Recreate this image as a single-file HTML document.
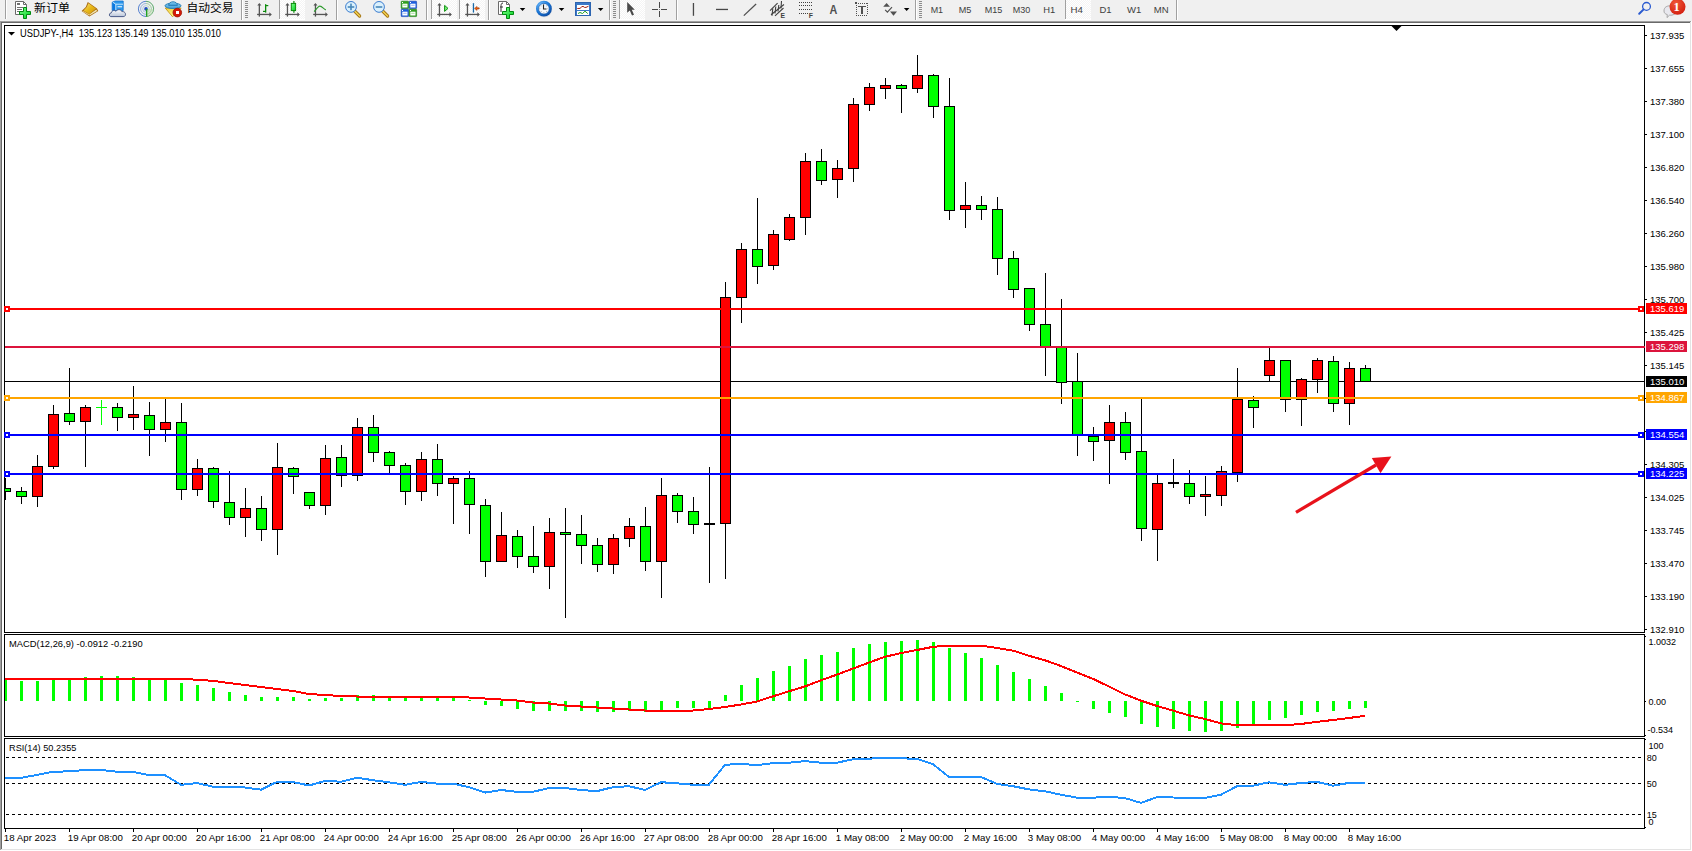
<!DOCTYPE html>
<html><head><meta charset="utf-8"><title>USDJPY-,H4</title>
<style>
html,body{margin:0;padding:0;background:#fff;overflow:hidden;}
#root{position:relative;width:1692px;height:851px;overflow:hidden;}
svg{position:absolute;left:0;top:0;}
text{white-space:pre;}
</style></head><body><div id="root">
<svg width="1692" height="851" viewBox="0 0 1692 851" shape-rendering="crispEdges" font-family="'Liberation Sans', sans-serif">
<rect x="0" y="0" width="1692" height="21" fill="#f0f0f0"/>
<rect x="0" y="21" width="1691" height="1" fill="#a0a0a0"/>
<rect x="0" y="21" width="1" height="829" fill="#a0a0a0"/>
<rect x="1" y="22" width="1689" height="1" fill="#696969"/>
<rect x="1" y="22" width="1" height="827" fill="#696969"/>
<rect x="1690" y="22" width="1" height="828" fill="#e3e3e3"/>
<rect x="1" y="849" width="1690" height="1" fill="#e3e3e3"/>
<rect x="1691" y="21" width="1" height="830" fill="#ffffff"/>
<rect x="0" y="850" width="1692" height="1" fill="#ffffff"/>
<rect x="2" y="23" width="1688" height="826" fill="#ffffff"/>
<rect x="4" y="25" width="1641" height="1" fill="#000"/>
<rect x="4" y="632" width="1641" height="1" fill="#000"/>
<rect x="4" y="25" width="1" height="608" fill="#000"/>
<rect x="1644" y="25" width="1" height="608" fill="#000"/>
<rect x="4" y="634" width="1641" height="1" fill="#000"/>
<rect x="4" y="736" width="1641" height="1" fill="#000"/>
<rect x="4" y="634" width="1" height="103" fill="#000"/>
<rect x="1644" y="634" width="1" height="103" fill="#000"/>
<rect x="4" y="738" width="1641" height="1" fill="#000"/>
<rect x="4" y="828" width="1641" height="1" fill="#000"/>
<rect x="4" y="738" width="1" height="91" fill="#000"/>
<rect x="1644" y="738" width="1" height="91" fill="#000"/>
<g font-family="'Liberation Sans', Arial, sans-serif">
<rect x="1645" y="35" width="2" height="1" fill="#000"/>
<text x="1650" y="39" font-size="9.5" fill="#000">137.935</text>
<rect x="1645" y="68" width="2" height="1" fill="#000"/>
<text x="1650" y="72" font-size="9.5" fill="#000">137.655</text>
<rect x="1645" y="101" width="2" height="1" fill="#000"/>
<text x="1650" y="105" font-size="9.5" fill="#000">137.380</text>
<rect x="1645" y="134" width="2" height="1" fill="#000"/>
<text x="1650" y="138" font-size="9.5" fill="#000">137.100</text>
<rect x="1645" y="167" width="2" height="1" fill="#000"/>
<text x="1650" y="171" font-size="9.5" fill="#000">136.820</text>
<rect x="1645" y="200" width="2" height="1" fill="#000"/>
<text x="1650" y="204" font-size="9.5" fill="#000">136.540</text>
<rect x="1645" y="233" width="2" height="1" fill="#000"/>
<text x="1650" y="237" font-size="9.5" fill="#000">136.260</text>
<rect x="1645" y="266" width="2" height="1" fill="#000"/>
<text x="1650" y="270" font-size="9.5" fill="#000">135.980</text>
<rect x="1645" y="299" width="2" height="1" fill="#000"/>
<text x="1650" y="303" font-size="9.5" fill="#000">135.700</text>
<rect x="1645" y="332" width="2" height="1" fill="#000"/>
<text x="1650" y="336" font-size="9.5" fill="#000">135.425</text>
<rect x="1645" y="365" width="2" height="1" fill="#000"/>
<text x="1650" y="369" font-size="9.5" fill="#000">135.145</text>
<rect x="1645" y="398" width="2" height="1" fill="#000"/>
<text x="1650" y="402" font-size="9.5" fill="#000">134.865</text>
<rect x="1645" y="431" width="2" height="1" fill="#000"/>
<text x="1650" y="435" font-size="9.5" fill="#000">134.585</text>
<rect x="1645" y="464" width="2" height="1" fill="#000"/>
<text x="1650" y="468" font-size="9.5" fill="#000">134.305</text>
<rect x="1645" y="497" width="2" height="1" fill="#000"/>
<text x="1650" y="501" font-size="9.5" fill="#000">134.025</text>
<rect x="1645" y="530" width="2" height="1" fill="#000"/>
<text x="1650" y="534" font-size="9.5" fill="#000">133.745</text>
<rect x="1645" y="563" width="2" height="1" fill="#000"/>
<text x="1650" y="567" font-size="9.5" fill="#000">133.470</text>
<rect x="1645" y="596" width="2" height="1" fill="#000"/>
<text x="1650" y="600" font-size="9.5" fill="#000">133.190</text>
<rect x="1645" y="629" width="2" height="1" fill="#000"/>
<text x="1650" y="633" font-size="9.5" fill="#000">132.910</text>
</g>
<defs><clipPath id="cm"><rect x="5" y="26" width="1639" height="606"/></clipPath><clipPath id="cmacd"><rect x="5" y="635" width="1639" height="101"/></clipPath><clipPath id="crsi"><rect x="5" y="739" width="1639" height="89"/></clipPath></defs>
<g clip-path="url(#cm)">
<rect x="5" y="381" width="1639" height="1" fill="#000000"/>
<rect x="5" y="478" width="1" height="22" fill="#000"/>
<rect x="0" y="488" width="11" height="4" fill="#000"/>
<rect x="1" y="489" width="9" height="2" fill="#00ff00"/>
<rect x="21" y="487" width="1" height="17" fill="#000"/>
<rect x="16" y="491" width="11" height="6" fill="#000"/>
<rect x="17" y="492" width="9" height="4" fill="#00ff00"/>
<rect x="37" y="455" width="1" height="52" fill="#000"/>
<rect x="32" y="466" width="11" height="31" fill="#000"/>
<rect x="33" y="467" width="9" height="29" fill="#ff0000"/>
<rect x="53" y="405" width="1" height="64" fill="#000"/>
<rect x="48" y="414" width="11" height="53" fill="#000"/>
<rect x="49" y="415" width="9" height="51" fill="#ff0000"/>
<rect x="69" y="368" width="1" height="57" fill="#000"/>
<rect x="64" y="413" width="11" height="9" fill="#000"/>
<rect x="65" y="414" width="9" height="7" fill="#00ff00"/>
<rect x="85" y="405" width="1" height="62" fill="#000"/>
<rect x="80" y="407" width="11" height="15" fill="#000"/>
<rect x="81" y="408" width="9" height="13" fill="#ff0000"/>
<rect x="101" y="400" width="1" height="25" fill="#00ff00"/>
<rect x="96" y="407" width="11" height="1" fill="#00ff00"/>
<rect x="117" y="403" width="1" height="28" fill="#000"/>
<rect x="112" y="407" width="11" height="11" fill="#000"/>
<rect x="113" y="408" width="9" height="9" fill="#00ff00"/>
<rect x="133" y="386" width="1" height="44" fill="#000"/>
<rect x="128" y="414" width="11" height="4" fill="#000"/>
<rect x="129" y="415" width="9" height="2" fill="#ff0000"/>
<rect x="149" y="402" width="1" height="54" fill="#000"/>
<rect x="144" y="415" width="11" height="15" fill="#000"/>
<rect x="145" y="416" width="9" height="13" fill="#00ff00"/>
<rect x="165" y="399" width="1" height="43" fill="#000"/>
<rect x="160" y="422" width="11" height="8" fill="#000"/>
<rect x="161" y="423" width="9" height="6" fill="#ff0000"/>
<rect x="181" y="403" width="1" height="97" fill="#000"/>
<rect x="176" y="422" width="11" height="68" fill="#000"/>
<rect x="177" y="423" width="9" height="66" fill="#00ff00"/>
<rect x="197" y="459" width="1" height="37" fill="#000"/>
<rect x="192" y="468" width="11" height="22" fill="#000"/>
<rect x="193" y="469" width="9" height="20" fill="#ff0000"/>
<rect x="213" y="467" width="1" height="41" fill="#000"/>
<rect x="208" y="468" width="11" height="34" fill="#000"/>
<rect x="209" y="469" width="9" height="32" fill="#00ff00"/>
<rect x="229" y="471" width="1" height="54" fill="#000"/>
<rect x="224" y="502" width="11" height="16" fill="#000"/>
<rect x="225" y="503" width="9" height="14" fill="#00ff00"/>
<rect x="245" y="488" width="1" height="49" fill="#000"/>
<rect x="240" y="508" width="11" height="10" fill="#000"/>
<rect x="241" y="509" width="9" height="8" fill="#ff0000"/>
<rect x="261" y="496" width="1" height="45" fill="#000"/>
<rect x="256" y="508" width="11" height="22" fill="#000"/>
<rect x="257" y="509" width="9" height="20" fill="#00ff00"/>
<rect x="277" y="443" width="1" height="112" fill="#000"/>
<rect x="272" y="467" width="11" height="63" fill="#000"/>
<rect x="273" y="468" width="9" height="61" fill="#ff0000"/>
<rect x="293" y="467" width="1" height="27" fill="#000"/>
<rect x="288" y="468" width="11" height="9" fill="#000"/>
<rect x="289" y="469" width="9" height="7" fill="#00ff00"/>
<rect x="309" y="492" width="1" height="17" fill="#000"/>
<rect x="304" y="492" width="11" height="14" fill="#000"/>
<rect x="305" y="493" width="9" height="12" fill="#00ff00"/>
<rect x="325" y="445" width="1" height="70" fill="#000"/>
<rect x="320" y="458" width="11" height="48" fill="#000"/>
<rect x="321" y="459" width="9" height="46" fill="#ff0000"/>
<rect x="341" y="445" width="1" height="42" fill="#000"/>
<rect x="336" y="457" width="11" height="19" fill="#000"/>
<rect x="337" y="458" width="9" height="17" fill="#00ff00"/>
<rect x="357" y="418" width="1" height="63" fill="#000"/>
<rect x="352" y="427" width="11" height="49" fill="#000"/>
<rect x="353" y="428" width="9" height="47" fill="#ff0000"/>
<rect x="373" y="415" width="1" height="47" fill="#000"/>
<rect x="368" y="427" width="11" height="26" fill="#000"/>
<rect x="369" y="428" width="9" height="24" fill="#00ff00"/>
<rect x="389" y="451" width="1" height="22" fill="#000"/>
<rect x="384" y="452" width="11" height="14" fill="#000"/>
<rect x="385" y="453" width="9" height="12" fill="#00ff00"/>
<rect x="405" y="463" width="1" height="42" fill="#000"/>
<rect x="400" y="465" width="11" height="27" fill="#000"/>
<rect x="401" y="466" width="9" height="25" fill="#00ff00"/>
<rect x="421" y="452" width="1" height="49" fill="#000"/>
<rect x="416" y="459" width="11" height="33" fill="#000"/>
<rect x="417" y="460" width="9" height="31" fill="#ff0000"/>
<rect x="437" y="444" width="1" height="52" fill="#000"/>
<rect x="432" y="459" width="11" height="25" fill="#000"/>
<rect x="433" y="460" width="9" height="23" fill="#00ff00"/>
<rect x="453" y="476" width="1" height="48" fill="#000"/>
<rect x="448" y="478" width="11" height="6" fill="#000"/>
<rect x="449" y="479" width="9" height="4" fill="#ff0000"/>
<rect x="469" y="471" width="1" height="63" fill="#000"/>
<rect x="464" y="478" width="11" height="27" fill="#000"/>
<rect x="465" y="479" width="9" height="25" fill="#00ff00"/>
<rect x="485" y="499" width="1" height="78" fill="#000"/>
<rect x="480" y="505" width="11" height="57" fill="#000"/>
<rect x="481" y="506" width="9" height="55" fill="#00ff00"/>
<rect x="501" y="512" width="1" height="49" fill="#000"/>
<rect x="496" y="535" width="11" height="27" fill="#000"/>
<rect x="497" y="536" width="9" height="25" fill="#ff0000"/>
<rect x="517" y="530" width="1" height="38" fill="#000"/>
<rect x="512" y="536" width="11" height="21" fill="#000"/>
<rect x="513" y="537" width="9" height="19" fill="#00ff00"/>
<rect x="533" y="526" width="1" height="47" fill="#000"/>
<rect x="528" y="556" width="11" height="11" fill="#000"/>
<rect x="529" y="557" width="9" height="9" fill="#00ff00"/>
<rect x="549" y="518" width="1" height="71" fill="#000"/>
<rect x="544" y="532" width="11" height="35" fill="#000"/>
<rect x="545" y="533" width="9" height="33" fill="#ff0000"/>
<rect x="565" y="508" width="1" height="110" fill="#000"/>
<rect x="560" y="532" width="11" height="3" fill="#000"/>
<rect x="561" y="533" width="9" height="1" fill="#00ff00"/>
<rect x="581" y="515" width="1" height="49" fill="#000"/>
<rect x="576" y="534" width="11" height="12" fill="#000"/>
<rect x="577" y="535" width="9" height="10" fill="#00ff00"/>
<rect x="597" y="538" width="1" height="34" fill="#000"/>
<rect x="592" y="545" width="11" height="20" fill="#000"/>
<rect x="593" y="546" width="9" height="18" fill="#00ff00"/>
<rect x="613" y="534" width="1" height="40" fill="#000"/>
<rect x="608" y="538" width="11" height="27" fill="#000"/>
<rect x="609" y="539" width="9" height="25" fill="#ff0000"/>
<rect x="629" y="518" width="1" height="29" fill="#000"/>
<rect x="624" y="526" width="11" height="13" fill="#000"/>
<rect x="625" y="527" width="9" height="11" fill="#ff0000"/>
<rect x="645" y="507" width="1" height="64" fill="#000"/>
<rect x="640" y="526" width="11" height="36" fill="#000"/>
<rect x="641" y="527" width="9" height="34" fill="#00ff00"/>
<rect x="661" y="478" width="1" height="120" fill="#000"/>
<rect x="656" y="495" width="11" height="67" fill="#000"/>
<rect x="657" y="496" width="9" height="65" fill="#ff0000"/>
<rect x="677" y="493" width="1" height="30" fill="#000"/>
<rect x="672" y="495" width="11" height="17" fill="#000"/>
<rect x="673" y="496" width="9" height="15" fill="#00ff00"/>
<rect x="693" y="497" width="1" height="37" fill="#000"/>
<rect x="688" y="511" width="11" height="14" fill="#000"/>
<rect x="689" y="512" width="9" height="12" fill="#00ff00"/>
<rect x="709" y="467" width="1" height="116" fill="#000"/>
<rect x="704" y="523" width="11" height="2" fill="#000"/>
<rect x="725" y="282" width="1" height="297" fill="#000"/>
<rect x="720" y="297" width="11" height="227" fill="#000"/>
<rect x="721" y="298" width="9" height="225" fill="#ff0000"/>
<rect x="741" y="243" width="1" height="80" fill="#000"/>
<rect x="736" y="249" width="11" height="49" fill="#000"/>
<rect x="737" y="250" width="9" height="47" fill="#ff0000"/>
<rect x="757" y="198" width="1" height="86" fill="#000"/>
<rect x="752" y="249" width="11" height="18" fill="#000"/>
<rect x="753" y="250" width="9" height="16" fill="#00ff00"/>
<rect x="773" y="230" width="1" height="40" fill="#000"/>
<rect x="768" y="234" width="11" height="32" fill="#000"/>
<rect x="769" y="235" width="9" height="30" fill="#ff0000"/>
<rect x="789" y="214" width="1" height="27" fill="#000"/>
<rect x="784" y="217" width="11" height="23" fill="#000"/>
<rect x="785" y="218" width="9" height="21" fill="#ff0000"/>
<rect x="805" y="153" width="1" height="82" fill="#000"/>
<rect x="800" y="161" width="11" height="57" fill="#000"/>
<rect x="801" y="162" width="9" height="55" fill="#ff0000"/>
<rect x="821" y="149" width="1" height="36" fill="#000"/>
<rect x="816" y="161" width="11" height="20" fill="#000"/>
<rect x="817" y="162" width="9" height="18" fill="#00ff00"/>
<rect x="837" y="160" width="1" height="38" fill="#000"/>
<rect x="832" y="168" width="11" height="12" fill="#000"/>
<rect x="833" y="169" width="9" height="10" fill="#ff0000"/>
<rect x="853" y="98" width="1" height="84" fill="#000"/>
<rect x="848" y="104" width="11" height="65" fill="#000"/>
<rect x="849" y="105" width="9" height="63" fill="#ff0000"/>
<rect x="869" y="83" width="1" height="28" fill="#000"/>
<rect x="864" y="87" width="11" height="18" fill="#000"/>
<rect x="865" y="88" width="9" height="16" fill="#ff0000"/>
<rect x="885" y="78" width="1" height="21" fill="#000"/>
<rect x="880" y="85" width="11" height="4" fill="#000"/>
<rect x="881" y="86" width="9" height="2" fill="#ff0000"/>
<rect x="901" y="84" width="1" height="29" fill="#000"/>
<rect x="896" y="85" width="11" height="4" fill="#000"/>
<rect x="897" y="86" width="9" height="2" fill="#00ff00"/>
<rect x="917" y="55" width="1" height="38" fill="#000"/>
<rect x="912" y="75" width="11" height="14" fill="#000"/>
<rect x="913" y="76" width="9" height="12" fill="#ff0000"/>
<rect x="933" y="74" width="1" height="44" fill="#000"/>
<rect x="928" y="75" width="11" height="32" fill="#000"/>
<rect x="929" y="76" width="9" height="30" fill="#00ff00"/>
<rect x="949" y="78" width="1" height="142" fill="#000"/>
<rect x="944" y="106" width="11" height="105" fill="#000"/>
<rect x="945" y="107" width="9" height="103" fill="#00ff00"/>
<rect x="965" y="182" width="1" height="46" fill="#000"/>
<rect x="960" y="205" width="11" height="5" fill="#000"/>
<rect x="961" y="206" width="9" height="3" fill="#ff0000"/>
<rect x="981" y="196" width="1" height="24" fill="#000"/>
<rect x="976" y="205" width="11" height="5" fill="#000"/>
<rect x="977" y="206" width="9" height="3" fill="#00ff00"/>
<rect x="997" y="197" width="1" height="78" fill="#000"/>
<rect x="992" y="209" width="11" height="50" fill="#000"/>
<rect x="993" y="210" width="9" height="48" fill="#00ff00"/>
<rect x="1013" y="251" width="1" height="47" fill="#000"/>
<rect x="1008" y="258" width="11" height="32" fill="#000"/>
<rect x="1009" y="259" width="9" height="30" fill="#00ff00"/>
<rect x="1029" y="288" width="1" height="43" fill="#000"/>
<rect x="1024" y="288" width="11" height="37" fill="#000"/>
<rect x="1025" y="289" width="9" height="35" fill="#00ff00"/>
<rect x="1045" y="273" width="1" height="103" fill="#000"/>
<rect x="1040" y="324" width="11" height="23" fill="#000"/>
<rect x="1041" y="325" width="9" height="21" fill="#00ff00"/>
<rect x="1061" y="299" width="1" height="105" fill="#000"/>
<rect x="1056" y="347" width="11" height="36" fill="#000"/>
<rect x="1057" y="348" width="9" height="34" fill="#00ff00"/>
<rect x="1077" y="353" width="1" height="103" fill="#000"/>
<rect x="1072" y="381" width="11" height="54" fill="#000"/>
<rect x="1073" y="382" width="9" height="52" fill="#00ff00"/>
<rect x="1093" y="427" width="1" height="34" fill="#000"/>
<rect x="1088" y="436" width="11" height="6" fill="#000"/>
<rect x="1089" y="437" width="9" height="4" fill="#00ff00"/>
<rect x="1109" y="405" width="1" height="79" fill="#000"/>
<rect x="1104" y="422" width="11" height="19" fill="#000"/>
<rect x="1105" y="423" width="9" height="17" fill="#ff0000"/>
<rect x="1125" y="412" width="1" height="48" fill="#000"/>
<rect x="1120" y="422" width="11" height="31" fill="#000"/>
<rect x="1121" y="423" width="9" height="29" fill="#00ff00"/>
<rect x="1141" y="399" width="1" height="142" fill="#000"/>
<rect x="1136" y="451" width="11" height="78" fill="#000"/>
<rect x="1137" y="452" width="9" height="76" fill="#00ff00"/>
<rect x="1157" y="475" width="1" height="86" fill="#000"/>
<rect x="1152" y="483" width="11" height="47" fill="#000"/>
<rect x="1153" y="484" width="9" height="45" fill="#ff0000"/>
<rect x="1173" y="459" width="1" height="29" fill="#000"/>
<rect x="1168" y="482" width="11" height="2" fill="#000"/>
<rect x="1189" y="470" width="1" height="34" fill="#000"/>
<rect x="1184" y="483" width="11" height="14" fill="#000"/>
<rect x="1185" y="484" width="9" height="12" fill="#00ff00"/>
<rect x="1205" y="476" width="1" height="40" fill="#000"/>
<rect x="1200" y="494" width="11" height="3" fill="#000"/>
<rect x="1201" y="495" width="9" height="1" fill="#ff0000"/>
<rect x="1221" y="466" width="1" height="40" fill="#000"/>
<rect x="1216" y="471" width="11" height="25" fill="#000"/>
<rect x="1217" y="472" width="9" height="23" fill="#ff0000"/>
<rect x="1237" y="368" width="1" height="114" fill="#000"/>
<rect x="1232" y="399" width="11" height="74" fill="#000"/>
<rect x="1233" y="400" width="9" height="72" fill="#ff0000"/>
<rect x="1253" y="396" width="1" height="32" fill="#000"/>
<rect x="1248" y="400" width="11" height="8" fill="#000"/>
<rect x="1249" y="401" width="9" height="6" fill="#00ff00"/>
<rect x="1269" y="348" width="1" height="34" fill="#000"/>
<rect x="1264" y="360" width="11" height="16" fill="#000"/>
<rect x="1265" y="361" width="9" height="14" fill="#ff0000"/>
<rect x="1285" y="360" width="1" height="52" fill="#000"/>
<rect x="1280" y="360" width="11" height="40" fill="#000"/>
<rect x="1281" y="361" width="9" height="38" fill="#00ff00"/>
<rect x="1301" y="378" width="1" height="48" fill="#000"/>
<rect x="1296" y="379" width="11" height="21" fill="#000"/>
<rect x="1297" y="380" width="9" height="19" fill="#ff0000"/>
<rect x="1317" y="358" width="1" height="35" fill="#000"/>
<rect x="1312" y="360" width="11" height="20" fill="#000"/>
<rect x="1313" y="361" width="9" height="18" fill="#ff0000"/>
<rect x="1333" y="356" width="1" height="56" fill="#000"/>
<rect x="1328" y="361" width="11" height="43" fill="#000"/>
<rect x="1329" y="362" width="9" height="41" fill="#00ff00"/>
<rect x="1349" y="362" width="1" height="63" fill="#000"/>
<rect x="1344" y="368" width="11" height="36" fill="#000"/>
<rect x="1345" y="369" width="9" height="34" fill="#ff0000"/>
<rect x="1365" y="365" width="1" height="16" fill="#000"/>
<rect x="1360" y="368" width="11" height="14" fill="#000"/>
<rect x="1361" y="369" width="9" height="12" fill="#00ff00"/>
<rect x="5" y="308" width="1639" height="2" fill="#ff0000"/>
<rect x="5" y="346" width="1639" height="2" fill="#dc143c"/>
<rect x="5" y="397" width="1639" height="2" fill="#ffa500"/>
<rect x="5" y="434" width="1639" height="2" fill="#0000ff"/>
<rect x="5" y="473" width="1639" height="2" fill="#0000ff"/>
<g shape-rendering="geometricPrecision"><line x1="1296" y1="512.3" x2="1376" y2="465" stroke="#e8121b" stroke-width="3.2"/><polygon points="1371.8,458 1391.4,456.6 1380.5,473.3" fill="#e8121b"/></g>
<polygon points="1391.5,26 1401.5,26 1396.5,31" fill="#000" shape-rendering="geometricPrecision"/>
</g>
<rect x="1644" y="346" width="1" height="2" fill="#dc143c"/>
<rect x="4" y="306" width="6" height="6" fill="#ff0000"/>
<rect x="6" y="308" width="2" height="2" fill="#fff"/>
<rect x="1638" y="306" width="6" height="6" fill="#ff0000"/>
<rect x="1640" y="308" width="2" height="2" fill="#fff"/>
<rect x="4" y="395" width="6" height="6" fill="#ffa500"/>
<rect x="6" y="397" width="2" height="2" fill="#fff"/>
<rect x="1638" y="395" width="6" height="6" fill="#ffa500"/>
<rect x="1640" y="397" width="2" height="2" fill="#fff"/>
<rect x="4" y="432" width="6" height="6" fill="#0000ff"/>
<rect x="6" y="434" width="2" height="2" fill="#fff"/>
<rect x="1638" y="432" width="6" height="6" fill="#0000ff"/>
<rect x="1640" y="434" width="2" height="2" fill="#fff"/>
<rect x="4" y="471" width="6" height="6" fill="#0000ff"/>
<rect x="6" y="473" width="2" height="2" fill="#fff"/>
<rect x="1638" y="471" width="6" height="6" fill="#0000ff"/>
<rect x="1640" y="473" width="2" height="2" fill="#fff"/>
<g font-family="'Liberation Sans', Arial, sans-serif">
<rect x="1646" y="303" width="41" height="11" fill="#ff0000"/>
<text x="1650" y="312" font-size="9.5" fill="#fff">135.619</text>
<rect x="1646" y="341" width="41" height="11" fill="#dc143c"/>
<text x="1650" y="350" font-size="9.5" fill="#fff">135.298</text>
<rect x="1646" y="376" width="41" height="11" fill="#000000"/>
<text x="1650" y="385" font-size="9.5" fill="#fff">135.010</text>
<rect x="1646" y="392" width="41" height="11" fill="#ffa500"/>
<text x="1650" y="401" font-size="9.5" fill="#fff">134.867</text>
<rect x="1646" y="429" width="41" height="11" fill="#0000ff"/>
<text x="1650" y="438" font-size="9.5" fill="#fff">134.554</text>
<rect x="1646" y="468" width="41" height="11" fill="#0000ff"/>
<text x="1650" y="477" font-size="9.5" fill="#fff">134.225</text>
</g>
<polygon points="8,32 15,32 11.5,35.5" fill="#000" shape-rendering="geometricPrecision"/>
<g font-family="'Liberation Sans', Arial, sans-serif">
<text x="20" y="36.6" font-size="10" fill="#000" textLength="201" lengthAdjust="spacingAndGlyphs">USDJPY-,H4 &#160;135.123 135.149 135.010 135.010</text>
</g>
<g clip-path="url(#cmacd)">
<rect x="4" y="680" width="3" height="21" fill="#00ff00"/>
<rect x="20" y="681" width="3" height="20" fill="#00ff00"/>
<rect x="36" y="681" width="3" height="20" fill="#00ff00"/>
<rect x="52" y="679" width="3" height="22" fill="#00ff00"/>
<rect x="68" y="679" width="3" height="22" fill="#00ff00"/>
<rect x="84" y="677" width="3" height="24" fill="#00ff00"/>
<rect x="100" y="676" width="3" height="25" fill="#00ff00"/>
<rect x="116" y="676" width="3" height="25" fill="#00ff00"/>
<rect x="132" y="677" width="3" height="24" fill="#00ff00"/>
<rect x="148" y="679" width="3" height="22" fill="#00ff00"/>
<rect x="164" y="679" width="3" height="22" fill="#00ff00"/>
<rect x="180" y="683" width="3" height="18" fill="#00ff00"/>
<rect x="196" y="685" width="3" height="16" fill="#00ff00"/>
<rect x="212" y="688" width="3" height="13" fill="#00ff00"/>
<rect x="228" y="692" width="3" height="9" fill="#00ff00"/>
<rect x="244" y="695" width="3" height="6" fill="#00ff00"/>
<rect x="260" y="697" width="3" height="4" fill="#00ff00"/>
<rect x="276" y="697" width="3" height="4" fill="#00ff00"/>
<rect x="292" y="697" width="3" height="4" fill="#00ff00"/>
<rect x="308" y="699" width="3" height="2" fill="#00ff00"/>
<rect x="324" y="698" width="3" height="3" fill="#00ff00"/>
<rect x="340" y="698" width="3" height="3" fill="#00ff00"/>
<rect x="356" y="695" width="3" height="6" fill="#00ff00"/>
<rect x="372" y="695" width="3" height="6" fill="#00ff00"/>
<rect x="388" y="698" width="3" height="3" fill="#00ff00"/>
<rect x="404" y="698" width="3" height="3" fill="#00ff00"/>
<rect x="420" y="698" width="3" height="3" fill="#00ff00"/>
<rect x="436" y="698" width="3" height="3" fill="#00ff00"/>
<rect x="452" y="698" width="3" height="3" fill="#00ff00"/>
<rect x="468" y="700" width="3" height="1" fill="#00ff00"/>
<rect x="484" y="701" width="3" height="4" fill="#00ff00"/>
<rect x="500" y="701" width="3" height="5" fill="#00ff00"/>
<rect x="516" y="701" width="3" height="8" fill="#00ff00"/>
<rect x="532" y="701" width="3" height="10" fill="#00ff00"/>
<rect x="548" y="701" width="3" height="10" fill="#00ff00"/>
<rect x="564" y="701" width="3" height="10" fill="#00ff00"/>
<rect x="580" y="701" width="3" height="10" fill="#00ff00"/>
<rect x="596" y="701" width="3" height="11" fill="#00ff00"/>
<rect x="612" y="701" width="3" height="11" fill="#00ff00"/>
<rect x="628" y="701" width="3" height="10" fill="#00ff00"/>
<rect x="644" y="701" width="3" height="11" fill="#00ff00"/>
<rect x="660" y="701" width="3" height="9" fill="#00ff00"/>
<rect x="676" y="701" width="3" height="7" fill="#00ff00"/>
<rect x="692" y="701" width="3" height="7" fill="#00ff00"/>
<rect x="708" y="701" width="3" height="7" fill="#00ff00"/>
<rect x="724" y="695" width="3" height="6" fill="#00ff00"/>
<rect x="740" y="685" width="3" height="16" fill="#00ff00"/>
<rect x="756" y="678" width="3" height="23" fill="#00ff00"/>
<rect x="772" y="671" width="3" height="30" fill="#00ff00"/>
<rect x="788" y="666" width="3" height="35" fill="#00ff00"/>
<rect x="804" y="659" width="3" height="42" fill="#00ff00"/>
<rect x="820" y="655" width="3" height="46" fill="#00ff00"/>
<rect x="836" y="652" width="3" height="49" fill="#00ff00"/>
<rect x="852" y="648" width="3" height="53" fill="#00ff00"/>
<rect x="868" y="644" width="3" height="57" fill="#00ff00"/>
<rect x="884" y="642" width="3" height="59" fill="#00ff00"/>
<rect x="900" y="641" width="3" height="60" fill="#00ff00"/>
<rect x="916" y="640" width="3" height="61" fill="#00ff00"/>
<rect x="932" y="642" width="3" height="59" fill="#00ff00"/>
<rect x="948" y="648" width="3" height="53" fill="#00ff00"/>
<rect x="964" y="653" width="3" height="48" fill="#00ff00"/>
<rect x="980" y="658" width="3" height="43" fill="#00ff00"/>
<rect x="996" y="665" width="3" height="36" fill="#00ff00"/>
<rect x="1012" y="672" width="3" height="29" fill="#00ff00"/>
<rect x="1028" y="679" width="3" height="22" fill="#00ff00"/>
<rect x="1044" y="686" width="3" height="15" fill="#00ff00"/>
<rect x="1060" y="693" width="3" height="8" fill="#00ff00"/>
<rect x="1076" y="701" width="3" height="1" fill="#00ff00"/>
<rect x="1092" y="701" width="3" height="8" fill="#00ff00"/>
<rect x="1108" y="701" width="3" height="12" fill="#00ff00"/>
<rect x="1124" y="701" width="3" height="16" fill="#00ff00"/>
<rect x="1140" y="701" width="3" height="23" fill="#00ff00"/>
<rect x="1156" y="701" width="3" height="26" fill="#00ff00"/>
<rect x="1172" y="701" width="3" height="28" fill="#00ff00"/>
<rect x="1188" y="701" width="3" height="30" fill="#00ff00"/>
<rect x="1204" y="701" width="3" height="31" fill="#00ff00"/>
<rect x="1220" y="701" width="3" height="30" fill="#00ff00"/>
<rect x="1236" y="701" width="3" height="27" fill="#00ff00"/>
<rect x="1252" y="701" width="3" height="24" fill="#00ff00"/>
<rect x="1268" y="701" width="3" height="19" fill="#00ff00"/>
<rect x="1284" y="701" width="3" height="17" fill="#00ff00"/>
<rect x="1300" y="701" width="3" height="14" fill="#00ff00"/>
<rect x="1316" y="701" width="3" height="11" fill="#00ff00"/>
<rect x="1332" y="701" width="3" height="10" fill="#00ff00"/>
<rect x="1348" y="701" width="3" height="8" fill="#00ff00"/>
<rect x="1364" y="701" width="3" height="7" fill="#00ff00"/>
<polyline points="5,678.5 21,678.5 37,678.5 53,678.5 69,679 85,679.2 101,679.2 117,679.2 133,678.5 149,678.5 165,678.5 181,678.7 197,679.8 213,680.8 229,683 245,685 261,687 277,689 293,691 309,694 325,695 341,696 357,696.5 373,697 389,697 405,697 421,697 437,697 453,697 469,697.5 485,698.5 501,699.5 517,700.5 533,702.5 549,703.5 565,705.5 581,706.5 597,707.5 613,708.5 629,709.5 645,710.5 661,710.5 677,710.5 693,710.5 709,709 725,707 741,704.5 757,701.5 773,696.3 789,691.3 805,686.4 821,680.3 837,674.6 853,668.6 869,662.5 885,656.8 901,653 917,650 933,646.8 949,645.6 965,645.6 981,645.6 997,648 1013,650.6 1029,655.8 1045,660.3 1061,666 1077,672.5 1093,678.9 1109,686.5 1125,694.4 1141,700.7 1157,706 1173,710.6 1189,715.4 1205,719 1221,723.4 1237,725.2 1253,725.2 1269,725.2 1285,725.2 1301,724 1317,721.8 1333,720 1349,718 1365,715.8" fill="none" stroke="#ff0000" stroke-width="2" stroke-linejoin="round" shape-rendering="crispEdges"/>
</g>
<g font-family="'Liberation Sans', Arial, sans-serif">
<rect x="1645" y="636" width="1" height="1" fill="#000"/>
<rect x="1645" y="701" width="1" height="1" fill="#000"/>
<rect x="1645" y="735" width="1" height="1" fill="#000"/>
<text x="1648.5" y="645" font-size="9" fill="#000">1.0032</text>
<text x="1648.5" y="705" font-size="9" fill="#000">0.00</text>
<text x="1647.5" y="733" font-size="9" fill="#000">-0.534</text>
<text x="9" y="647.4" font-size="9.8" fill="#000" textLength="133.6" lengthAdjust="spacingAndGlyphs">MACD(12,26,9) -0.0912 -0.2190</text>
</g>
<g clip-path="url(#crsi)">
<line x1="6" y1="757.5" x2="1642" y2="757.5" stroke="#000" stroke-width="1" stroke-dasharray="3 3" shape-rendering="crispEdges"/>
<line x1="6" y1="783.5" x2="1642" y2="783.5" stroke="#000" stroke-width="1" stroke-dasharray="3 3" shape-rendering="crispEdges"/>
<line x1="6" y1="814.5" x2="1642" y2="814.5" stroke="#000" stroke-width="1" stroke-dasharray="3 3" shape-rendering="crispEdges"/>
<polyline points="5,778 21,777.8 37,775 53,771.7 69,771.4 85,770 101,770 117,771.7 133,772 149,775 165,775.2 181,784.8 197,783.1 213,786.7 229,787.3 245,787.5 261,789.7 277,781.9 293,782 309,785.5 325,780.9 341,781.7 357,777.7 373,780.2 389,782.3 405,784.8 421,781.9 437,783.6 453,783.6 469,787.2 485,792.6 501,790 517,791.8 533,791.8 549,788 565,788 581,790 597,791.1 613,787.2 629,786.2 645,790 661,782.2 677,783.3 693,784.8 709,784.7 725,764.8 741,763.9 757,765.1 773,763.1 789,762.7 805,761.1 821,762.7 837,762.7 853,759.3 869,758.7 885,757.7 901,758.4 917,758.7 933,764.2 949,777 965,777 981,777 997,783.9 1013,786.2 1029,789.4 1045,791.3 1061,794.7 1077,797.7 1093,797.7 1109,796.7 1125,798.1 1141,802.9 1157,797.1 1173,797.5 1189,797.9 1205,797.9 1221,794.7 1237,786.2 1253,785.7 1269,782.3 1285,784.8 1301,783 1317,781.9 1333,785.7 1349,782.9 1365,782.9" fill="none" stroke="#1e90ff" stroke-width="2" stroke-linejoin="round" shape-rendering="crispEdges"/>
</g>
<g font-family="'Liberation Sans', Arial, sans-serif">
<rect x="1645" y="739" width="1" height="1" fill="#000"/>
<rect x="1645" y="827" width="1" height="1" fill="#000"/>
<text x="1648.5" y="749" font-size="9" fill="#000">100</text>
<text x="1646.8" y="761" font-size="9" fill="#000">80</text>
<text x="1646.8" y="787" font-size="9" fill="#000">50</text>
<text x="1646.8" y="817.5" font-size="9" fill="#000">15</text>
<text x="1648.5" y="825" font-size="9" fill="#000">0</text>
<text x="9" y="751" font-size="9.8" fill="#000" textLength="67.4" lengthAdjust="spacingAndGlyphs">RSI(14) 50.2355</text>
</g>
<g font-family="'Liberation Sans', Arial, sans-serif">
<rect x="5" y="829" width="1" height="3" fill="#000"/>
<text transform="translate(3.8,841) scale(1.08,1)" font-size="9" fill="#000">18 Apr 2023</text>
<rect x="69" y="829" width="1" height="3" fill="#000"/>
<text transform="translate(67.8,841) scale(1.08,1)" font-size="9" fill="#000">19 Apr 08:00</text>
<rect x="133" y="829" width="1" height="3" fill="#000"/>
<text transform="translate(131.8,841) scale(1.08,1)" font-size="9" fill="#000">20 Apr 00:00</text>
<rect x="197" y="829" width="1" height="3" fill="#000"/>
<text transform="translate(195.8,841) scale(1.08,1)" font-size="9" fill="#000">20 Apr 16:00</text>
<rect x="261" y="829" width="1" height="3" fill="#000"/>
<text transform="translate(259.8,841) scale(1.08,1)" font-size="9" fill="#000">21 Apr 08:00</text>
<rect x="325" y="829" width="1" height="3" fill="#000"/>
<text transform="translate(323.8,841) scale(1.08,1)" font-size="9" fill="#000">24 Apr 00:00</text>
<rect x="389" y="829" width="1" height="3" fill="#000"/>
<text transform="translate(387.8,841) scale(1.08,1)" font-size="9" fill="#000">24 Apr 16:00</text>
<rect x="453" y="829" width="1" height="3" fill="#000"/>
<text transform="translate(451.8,841) scale(1.08,1)" font-size="9" fill="#000">25 Apr 08:00</text>
<rect x="517" y="829" width="1" height="3" fill="#000"/>
<text transform="translate(515.8,841) scale(1.08,1)" font-size="9" fill="#000">26 Apr 00:00</text>
<rect x="581" y="829" width="1" height="3" fill="#000"/>
<text transform="translate(579.8,841) scale(1.08,1)" font-size="9" fill="#000">26 Apr 16:00</text>
<rect x="645" y="829" width="1" height="3" fill="#000"/>
<text transform="translate(643.8,841) scale(1.08,1)" font-size="9" fill="#000">27 Apr 08:00</text>
<rect x="709" y="829" width="1" height="3" fill="#000"/>
<text transform="translate(707.8,841) scale(1.08,1)" font-size="9" fill="#000">28 Apr 00:00</text>
<rect x="773" y="829" width="1" height="3" fill="#000"/>
<text transform="translate(771.8,841) scale(1.08,1)" font-size="9" fill="#000">28 Apr 16:00</text>
<rect x="837" y="829" width="1" height="3" fill="#000"/>
<text transform="translate(835.8,841) scale(1.08,1)" font-size="9" fill="#000">1 May 08:00</text>
<rect x="901" y="829" width="1" height="3" fill="#000"/>
<text transform="translate(899.8,841) scale(1.08,1)" font-size="9" fill="#000">2 May 00:00</text>
<rect x="965" y="829" width="1" height="3" fill="#000"/>
<text transform="translate(963.8,841) scale(1.08,1)" font-size="9" fill="#000">2 May 16:00</text>
<rect x="1029" y="829" width="1" height="3" fill="#000"/>
<text transform="translate(1027.8,841) scale(1.08,1)" font-size="9" fill="#000">3 May 08:00</text>
<rect x="1093" y="829" width="1" height="3" fill="#000"/>
<text transform="translate(1091.8,841) scale(1.08,1)" font-size="9" fill="#000">4 May 00:00</text>
<rect x="1157" y="829" width="1" height="3" fill="#000"/>
<text transform="translate(1155.8,841) scale(1.08,1)" font-size="9" fill="#000">4 May 16:00</text>
<rect x="1221" y="829" width="1" height="3" fill="#000"/>
<text transform="translate(1219.8,841) scale(1.08,1)" font-size="9" fill="#000">5 May 08:00</text>
<rect x="1285" y="829" width="1" height="3" fill="#000"/>
<text transform="translate(1283.8,841) scale(1.08,1)" font-size="9" fill="#000">8 May 00:00</text>
<rect x="1349" y="829" width="1" height="3" fill="#000"/>
<text transform="translate(1347.8,841) scale(1.08,1)" font-size="9" fill="#000">8 May 16:00</text>
</g>
<defs><pattern id="chk" width="2" height="2" patternUnits="userSpaceOnUse"><rect width="2" height="2" fill="#f4f4f4"/><rect width="1" height="1" fill="#ffffff"/><rect x="1" y="1" width="1" height="1" fill="#ffffff"/></pattern><linearGradient id="gold" x1="0" y1="0" x2="1" y2="1"><stop offset="0" stop-color="#f7e27a"/><stop offset="0.5" stop-color="#e8b818"/><stop offset="1" stop-color="#c89010"/></linearGradient><linearGradient id="grn" x1="0" y1="0" x2="1" y2="1"><stop offset="0" stop-color="#7dff8a"/><stop offset="1" stop-color="#00d020"/></linearGradient><radialGradient id="badge" cx="0.4" cy="0.3" r="0.7"><stop offset="0" stop-color="#f05a3a"/><stop offset="1" stop-color="#d42010"/></radialGradient><linearGradient id="cloud" x1="0" y1="0" x2="0" y2="1"><stop offset="0" stop-color="#ffffff"/><stop offset="1" stop-color="#b8c4d8"/></linearGradient><linearGradient id="hat" x1="0" y1="0" x2="0" y2="1"><stop offset="0" stop-color="#8fd0f0"/><stop offset="1" stop-color="#3c9ad8"/></linearGradient><linearGradient id="funnel" x1="0" y1="0" x2="0" y2="1"><stop offset="0" stop-color="#f0d040"/><stop offset="1" stop-color="#ffff90"/></linearGradient><radialGradient id="clk" cx="0.35" cy="0.3" r="0.75"><stop offset="0" stop-color="#7cc4ff"/><stop offset="0.6" stop-color="#1a78d8"/><stop offset="1" stop-color="#0a48a0"/></radialGradient></defs>
<rect x="5" y="0" width="1" height="19" fill="#a0a0a0"/>
<rect x="6" y="0" width="1" height="19" fill="#ffffff"/>
<path d="M15.5,1.5 H23.5 L26.5,4.5 V14.5 H15.5 Z" fill="#fff" stroke="#6a6a6a" stroke-width="1" shape-rendering="geometricPrecision"/>
<path d="M23.5,1.5 V4.5 H26.5" fill="none" stroke="#6a6a6a" stroke-width="1" shape-rendering="geometricPrecision"/>
<rect x="17" y="3" width="3" height="2" fill="#707070"/>
<rect x="17" y="7" width="6" height="1" fill="#707070"/>
<rect x="17" y="9" width="5" height="1" fill="#707070"/>
<rect x="17" y="11" width="3" height="1" fill="#707070"/>
<path d="M23.5,7.5 h3 v4 h4 v3 h-4 v4 h-3 v-4 h-4 v-3 h4 z" fill="url(#grn)" stroke="#008a10" stroke-width="1" shape-rendering="geometricPrecision"/>
<text x="34" y="11.9" font-size="11.6" fill="#000" font-family="'Liberation Sans','Noto Sans CJK SC','WenQuanYi Zen Hei',sans-serif" textLength="36" lengthAdjust="spacingAndGlyphs">新订单</text>
<polygon points="87.8,2.0 97,8.4 98.3,11.1 89.4,16.6 81.6,10.9 85.8,6.9" fill="#a86a10" shape-rendering="geometricPrecision"/>
<polygon points="96.2,9.6 97.2,11 89.6,15.6 89.2,14.4" fill="#efe4b0" shape-rendering="geometricPrecision"/>
<polygon points="88.4,3.2 96,8.6 89.3,14.2 83.6,10.5 86.8,7" fill="url(#gold)" shape-rendering="geometricPrecision"/>
<polygon points="83.4,10.9 89.3,14.6 89.1,15.5 82.8,11.4" fill="#f2d88a" shape-rendering="geometricPrecision"/>
<polygon points="112.2,2.2 115.2,1 123.2,1 123.2,10.5 112.2,10.5" fill="#2c98ec" stroke="#1272d0" stroke-width="0.8" shape-rendering="geometricPrecision"/>
<polygon points="112.6,2.6 115.6,4.4 115.6,10.2 112.6,10.2" fill="#0a78e0" shape-rendering="geometricPrecision"/>
<path d="M112.8,2.2 L115.8,4.2 L123,4.2 M115.8,4.2 V10" fill="none" stroke="#d8f0ff" stroke-width="0.9" shape-rendering="geometricPrecision"/>
<rect x="117.5" y="6.2" width="4.6" height="1.1" fill="#e8f6ff" shape-rendering="geometricPrecision"/>
<path d="M111,16.6 C108.8,16.6 108.8,12.9 111.4,12.8 C111.6,10.4 114.6,9.8 116,11.3 C117.2,9 121.2,9.1 121.9,11.6 C124.6,11.2 126.2,13.6 125.2,15.6 C124.8,16.4 124.2,16.6 123.2,16.6 Z" fill="url(#cloud)" stroke="#4a5a88" stroke-width="1" shape-rendering="geometricPrecision"/>
<path d="M146,1.3000000000000007 A7.6,7.6 0 0 0 146,16.5" fill="none" stroke="#3a6cc8" stroke-width="1" opacity="0.85" shape-rendering="geometricPrecision"/>
<path d="M146,1.3000000000000007 A7.6,7.6 0 0 1 146,16.5" fill="none" stroke="#3c9a50" stroke-width="1" opacity="0.85" shape-rendering="geometricPrecision"/>
<path d="M146,3.5 A5.4,5.4 0 0 0 146,14.3" fill="none" stroke="#5a8ad0" stroke-width="1" opacity="0.6" shape-rendering="geometricPrecision"/>
<path d="M146,3.5 A5.4,5.4 0 0 1 146,14.3" fill="none" stroke="#6ab070" stroke-width="1" opacity="0.6" shape-rendering="geometricPrecision"/>
<path d="M146,5.6000000000000005 A3.3,3.3 0 0 0 146,12.2" fill="none" stroke="#7aa0d8" stroke-width="1" opacity="0.5" shape-rendering="geometricPrecision"/>
<path d="M146,5.6000000000000005 A3.3,3.3 0 0 1 146,12.2" fill="none" stroke="#90c890" stroke-width="1" opacity="0.5" shape-rendering="geometricPrecision"/>
<path d="M146,8.9 L146,16.6 A7.6,7.6 0 0 0 153.6,8.9 Z" fill="#bcdcb0" opacity="0.5" shape-rendering="geometricPrecision"/>
<circle cx="146" cy="8.9" r="1.8" fill="#2050c0" shape-rendering="geometricPrecision"/>
<rect x="146" y="9" width="1.3" height="7.6" fill="#20a020" shape-rendering="geometricPrecision"/>
<path d="M165.2,8 L181.2,8 L172.6,16.8 Z" fill="url(#funnel)" stroke="#c89818" stroke-width="0.9" shape-rendering="geometricPrecision"/>
<ellipse cx="173" cy="5.8" rx="8" ry="2.7" fill="url(#hat)" stroke="#2a80b8" stroke-width="1" shape-rendering="geometricPrecision"/>
<path d="M168.6,5.4 C168.6,0.6 177.4,0.6 177.4,5.4 Z" fill="url(#hat)" stroke="#2a80b8" stroke-width="1" shape-rendering="geometricPrecision"/>
<circle cx="177.3" cy="12.6" r="4.3" fill="#d41a08" stroke="#a01000" stroke-width="0.8" shape-rendering="geometricPrecision"/>
<rect x="176" y="11.3" width="2.6" height="2.6" fill="#ffffff"/>
<text x="186.5" y="11.9" font-size="11.6" fill="#000" font-family="'Liberation Sans','Noto Sans CJK SC','WenQuanYi Zen Hei',sans-serif" textLength="47" lengthAdjust="spacingAndGlyphs">自动交易</text>
<rect x="241" y="0" width="1" height="20" fill="#a0a0a0"/>
<rect x="242" y="0" width="1" height="20" fill="#ffffff"/>
<rect x="245" y="1" width="3" height="1" fill="#8c8c8c"/>
<rect x="245" y="3" width="3" height="1" fill="#8c8c8c"/>
<rect x="245" y="5" width="3" height="1" fill="#8c8c8c"/>
<rect x="245" y="7" width="3" height="1" fill="#8c8c8c"/>
<rect x="245" y="9" width="3" height="1" fill="#8c8c8c"/>
<rect x="245" y="11" width="3" height="1" fill="#8c8c8c"/>
<rect x="245" y="13" width="3" height="1" fill="#8c8c8c"/>
<rect x="245" y="15" width="3" height="1" fill="#8c8c8c"/>
<rect x="245" y="17" width="3" height="1" fill="#8c8c8c"/>
<g fill="#555" stroke="none" shape-rendering="geometricPrecision"><rect x="258.7" y="4" width="1.3" height="12.6"/><polygon points="257.3,5.5 259.35,3 261.40000000000003,5.5"/><rect x="257.1" y="13.8" width="13" height="1.3"/><polygon points="269.3,12.2 271.8,14.45 269.3,16.7"/></g>
<g fill="#0a8a0a" shape-rendering="geometricPrecision"><rect x="265" y="4.2" width="1.3" height="8.4"/><rect x="263" y="10.8" width="2.5" height="1.2"/><rect x="266" y="5" width="2.3" height="1.2"/></g>
<rect x="279" y="0" width="1" height="20" fill="#a0a0a0"/>
<rect x="280" y="0" width="1" height="20" fill="#ffffff"/>
<rect x="280" y="0" width="25" height="19" fill="url(#chk)"/>
<rect x="279" y="0" width="1" height="19" fill="#a0a0a0"/>
<rect x="279" y="19" width="26" height="1" fill="#ffffff"/>
<g fill="#555" stroke="none" shape-rendering="geometricPrecision"><rect x="286.79999999999995" y="4" width="1.3" height="12.6"/><polygon points="285.4,5.5 287.45,3 289.5,5.5"/><rect x="285.2" y="13.8" width="13" height="1.3"/><polygon points="297.4,12.2 299.9,14.45 297.4,16.7"/></g>
<rect x="293.3" y="1" width="1.2" height="11.8" fill="#0a8a0a" shape-rendering="geometricPrecision"/>
<rect x="291.3" y="3.4" width="4.3" height="7.2" fill="url(#grn)" stroke="#0a8a0a" stroke-width="1" shape-rendering="geometricPrecision"/>
<g fill="#555" stroke="none" shape-rendering="geometricPrecision"><rect x="314.79999999999995" y="4" width="1.3" height="12.6"/><polygon points="313.4,5.5 315.45,3 317.5,5.5"/><rect x="313.2" y="13.8" width="13" height="1.3"/><polygon points="325.4,12.2 327.9,14.45 325.4,16.7"/></g>
<path d="M314.2,11.6 C316.5,8.5 318.5,5.8 320.1,6.1 C322,6.3 323.5,9 325.8,9.9" fill="none" stroke="#2a9a2a" stroke-width="1.2" shape-rendering="geometricPrecision"/>
<rect x="336" y="0" width="1" height="20" fill="#a0a0a0"/>
<rect x="337" y="0" width="1" height="20" fill="#ffffff"/>
<line x1="354.6" y1="11" x2="359.6" y2="16" stroke="#a07010" stroke-width="3.2" stroke-linecap="round" shape-rendering="geometricPrecision"/>
<line x1="354.6" y1="11" x2="359.6" y2="16" stroke="#f0d050" stroke-width="1.6" stroke-linecap="round" shape-rendering="geometricPrecision"/>
<circle cx="351" cy="6.9" r="5.4" fill="#daf0fc" stroke="#3a7cd0" stroke-width="1" shape-rendering="geometricPrecision"/>
<rect x="347.7" y="6.2" width="6.6" height="1.6" fill="#4a88b8" shape-rendering="geometricPrecision"/>
<rect x="350.2" y="3.6" width="1.6" height="6.6" fill="#4a88b8" shape-rendering="geometricPrecision"/>
<line x1="382.6" y1="11" x2="387.6" y2="16" stroke="#a07010" stroke-width="3.2" stroke-linecap="round" shape-rendering="geometricPrecision"/>
<line x1="382.6" y1="11" x2="387.6" y2="16" stroke="#f0d050" stroke-width="1.6" stroke-linecap="round" shape-rendering="geometricPrecision"/>
<circle cx="379" cy="6.9" r="5.4" fill="#daf0fc" stroke="#3a7cd0" stroke-width="1" shape-rendering="geometricPrecision"/>
<rect x="375.7" y="6.2" width="6.6" height="1.6" fill="#4a88b8" shape-rendering="geometricPrecision"/>
<rect x="401.2" y="1.2" width="7.4" height="7.4" rx="0.6" fill="#2ea01c" stroke="#1a7a10" stroke-width="0.6" shape-rendering="geometricPrecision"/>
<rect x="402.3" y="3.7" width="5.2" height="3.8" fill="#ffffff" shape-rendering="geometricPrecision"/>
<rect x="403.2" y="4.8" width="3.4" height="0.9" fill="#9ad890" shape-rendering="geometricPrecision"/>
<rect x="402.2" y="2.0" width="0.8" height="0.8" fill="#ffffff"/>
<rect x="409.2" y="1.2" width="7.4" height="7.4" rx="0.6" fill="#1a5ee0" stroke="#1040b0" stroke-width="0.6" shape-rendering="geometricPrecision"/>
<rect x="410.3" y="3.7" width="5.2" height="3.8" fill="#ffffff" shape-rendering="geometricPrecision"/>
<rect x="411.2" y="4.8" width="3.4" height="0.9" fill="#90b0f0" shape-rendering="geometricPrecision"/>
<rect x="410.2" y="2.0" width="0.8" height="0.8" fill="#ffffff"/>
<rect x="401.2" y="9.2" width="7.4" height="7.4" rx="0.6" fill="#1a5ee0" stroke="#1040b0" stroke-width="0.6" shape-rendering="geometricPrecision"/>
<rect x="402.3" y="11.7" width="5.2" height="3.8" fill="#ffffff" shape-rendering="geometricPrecision"/>
<rect x="403.2" y="12.799999999999999" width="3.4" height="0.9" fill="#90b0f0" shape-rendering="geometricPrecision"/>
<rect x="402.2" y="10.0" width="0.8" height="0.8" fill="#ffffff"/>
<rect x="409.2" y="9.2" width="7.4" height="7.4" rx="0.6" fill="#2ea01c" stroke="#1a7a10" stroke-width="0.6" shape-rendering="geometricPrecision"/>
<rect x="410.3" y="11.7" width="5.2" height="3.8" fill="#ffffff" shape-rendering="geometricPrecision"/>
<rect x="411.2" y="12.799999999999999" width="3.4" height="0.9" fill="#9ad890" shape-rendering="geometricPrecision"/>
<rect x="410.2" y="10.0" width="0.8" height="0.8" fill="#ffffff"/>
<rect x="426" y="0" width="1" height="20" fill="#a0a0a0"/>
<rect x="427" y="0" width="1" height="20" fill="#ffffff"/>
<rect x="432" y="0" width="25" height="19" fill="url(#chk)"/>
<rect x="431" y="0" width="1" height="19" fill="#a0a0a0"/>
<rect x="431" y="19" width="26" height="1" fill="#ffffff"/>
<g fill="#555" stroke="none" shape-rendering="geometricPrecision"><rect x="438.79999999999995" y="4" width="1.3" height="12.6"/><polygon points="437.4,5.5 439.45,3 441.5,5.5"/><rect x="437.2" y="13.8" width="13" height="1.3"/><polygon points="449.4,12.2 451.9,14.45 449.4,16.7"/></g>
<polygon points="444.6,5.4 448,8.4 444.6,11.4" fill="#78f078" stroke="#109010" stroke-width="1" shape-rendering="geometricPrecision"/>
<rect x="460" y="0" width="25" height="19" fill="url(#chk)"/>
<rect x="459" y="0" width="1" height="19" fill="#a0a0a0"/>
<rect x="459" y="19" width="26" height="1" fill="#ffffff"/>
<g fill="#555" stroke="none" shape-rendering="geometricPrecision"><rect x="466.79999999999995" y="4" width="1.3" height="12.6"/><polygon points="465.4,5.5 467.45,3 469.5,5.5"/><rect x="465.2" y="13.8" width="13" height="1.3"/><polygon points="477.4,12.2 479.9,14.45 477.4,16.7"/></g>
<rect x="472.8" y="3.2" width="1.3" height="9.4" fill="#1a6aa8" shape-rendering="geometricPrecision"/>
<path d="M474.5,8.4 L477,6.4 L477,7.8 L479.2,7.8 L479.2,9 L477,9 L477,10.4 Z" fill="#e86010" stroke="#a03000" stroke-width="0.5" shape-rendering="geometricPrecision"/>
<rect x="488" y="0" width="1" height="20" fill="#a0a0a0"/>
<rect x="489" y="0" width="1" height="20" fill="#ffffff"/>
<path d="M498.5,1.5 H506.5 L509.5,4.5 V14.5 H498.5 Z" fill="#fff" stroke="#6a6a6a" stroke-width="1" shape-rendering="geometricPrecision"/>
<path d="M506.5,1.5 V4.5 H509.5" fill="none" stroke="#6a6a6a" stroke-width="1" shape-rendering="geometricPrecision"/>
<path d="M503,3 C501,3 501,5 501,7 L501,12 M500,7 H503" fill="none" stroke="#333" stroke-width="1" shape-rendering="geometricPrecision"/>
<path d="M506.5,7.5 h3 v4 h4 v3 h-4 v4 h-3 v-4 h-4 v-3 h4 z" fill="url(#grn)" stroke="#008a10" stroke-width="1" shape-rendering="geometricPrecision"/>
<polygon points="519.8,8 525.3,8 522.55,11" fill="#000" shape-rendering="geometricPrecision"/>
<circle cx="544.2" cy="9.3" r="7.9" fill="#b8c0cc" opacity="0.5" shape-rendering="geometricPrecision"/>
<circle cx="543.9" cy="8.7" r="7.9" fill="url(#clk)" shape-rendering="geometricPrecision"/>
<circle cx="543.9" cy="8.7" r="5.3" fill="#f4f8fc" stroke="#0a50a8" stroke-width="0.6" shape-rendering="geometricPrecision"/>
<circle cx="543.9" cy="4.699999999999999" r="0.45" fill="#777" shape-rendering="geometricPrecision"/>
<circle cx="546.6999999999999" cy="5.8999999999999995" r="0.45" fill="#777" shape-rendering="geometricPrecision"/>
<circle cx="547.9" cy="8.7" r="0.45" fill="#777" shape-rendering="geometricPrecision"/>
<circle cx="546.6999999999999" cy="11.5" r="0.45" fill="#777" shape-rendering="geometricPrecision"/>
<circle cx="543.9" cy="12.7" r="0.45" fill="#777" shape-rendering="geometricPrecision"/>
<circle cx="541.1" cy="11.5" r="0.45" fill="#777" shape-rendering="geometricPrecision"/>
<circle cx="539.9" cy="8.7" r="0.45" fill="#777" shape-rendering="geometricPrecision"/>
<circle cx="541.1" cy="5.8999999999999995" r="0.45" fill="#777" shape-rendering="geometricPrecision"/>
<path d="M543.5,4.5 L543.5,9 L546.5,9" fill="none" stroke="#222" stroke-width="1.1" shape-rendering="geometricPrecision"/>
<polygon points="558.8,8 564.3,8 561.55,11" fill="#000" shape-rendering="geometricPrecision"/>
<rect x="575.5" y="2.5" width="15" height="13" fill="#3a78c8" stroke="#2c64b0" stroke-width="1" shape-rendering="geometricPrecision"/>
<rect x="577" y="5" width="12" height="4.6" fill="#ffffff"/>
<rect x="577" y="10.8" width="12" height="4" fill="#ffffff"/>
<polyline points="577.3,8.5 580,8.4 581.5,7 583,6.3 584.5,7.4 586,7.4 588.5,6.2" fill="none" stroke="#a02010" stroke-width="1" shape-rendering="geometricPrecision"/>
<polyline points="578,13.5 580,12.5 582.5,13.5 585,11.2 587.8,13.6" fill="none" stroke="#20a020" stroke-width="1" shape-rendering="geometricPrecision"/>
<polygon points="597.9,8 603.4,8 600.65,11" fill="#000" shape-rendering="geometricPrecision"/>
<rect x="609" y="0" width="1" height="20" fill="#a0a0a0"/>
<rect x="610" y="0" width="1" height="20" fill="#ffffff"/>
<rect x="613" y="1" width="3" height="1" fill="#8c8c8c"/>
<rect x="613" y="3" width="3" height="1" fill="#8c8c8c"/>
<rect x="613" y="5" width="3" height="1" fill="#8c8c8c"/>
<rect x="613" y="7" width="3" height="1" fill="#8c8c8c"/>
<rect x="613" y="9" width="3" height="1" fill="#8c8c8c"/>
<rect x="613" y="11" width="3" height="1" fill="#8c8c8c"/>
<rect x="613" y="13" width="3" height="1" fill="#8c8c8c"/>
<rect x="613" y="15" width="3" height="1" fill="#8c8c8c"/>
<rect x="613" y="17" width="3" height="1" fill="#8c8c8c"/>
<rect x="620" y="0" width="25" height="19" fill="url(#chk)"/>
<rect x="619" y="0" width="1" height="19" fill="#a0a0a0"/>
<rect x="619" y="19" width="26" height="1" fill="#ffffff"/>
<path d="M627.2,1.9 L627.2,12.8 L629.8,10.6 L632,15.6 L634,14.8 L631.8,9.8 L634.8,9.7 Z" fill="#4a4a4a" shape-rendering="geometricPrecision"/>
<g fill="#484848"><rect x="659" y="2" width="1" height="6"/><rect x="659" y="11" width="1" height="6"/><rect x="652" y="9" width="6" height="1"/><rect x="661" y="9" width="6" height="1"/></g>
<rect x="659" y="9" width="1" height="1" fill="#888"/>
<rect x="676" y="0" width="1" height="20" fill="#a0a0a0"/>
<rect x="677" y="0" width="1" height="20" fill="#ffffff"/>
<rect x="692.8" y="3" width="1.3" height="12.8" fill="#484848" shape-rendering="geometricPrecision"/>
<rect x="716" y="8.8" width="12" height="1.3" fill="#484848" shape-rendering="geometricPrecision"/>
<line x1="743.8" y1="15.6" x2="756.1" y2="4" stroke="#505050" stroke-width="1.3" shape-rendering="geometricPrecision"/>
<g stroke="#404040" stroke-width="1.1" fill="none" shape-rendering="geometricPrecision"><line x1="770" y1="10.6" x2="777.6" y2="3.1"/><line x1="771" y1="14.7" x2="784" y2="4.5"/><line x1="775" y1="15.8" x2="783.5" y2="8"/><path d="M772.8,8.5 L772,15.8 M775.8,6.5 L775,13.5 M778.8,5 L778,11.5 M781.5,1 L781,8.5"/></g>
<text x="780.6" y="18" font-size="6.8" font-weight="bold" fill="#404040" font-family="'Liberation Sans',sans-serif" shape-rendering="geometricPrecision">E</text>
<rect x="799" y="2" width="1" height="1" fill="#404040"/>
<rect x="801" y="2" width="1" height="1" fill="#404040"/>
<rect x="803" y="2" width="1" height="1" fill="#404040"/>
<rect x="805" y="2" width="1" height="1" fill="#404040"/>
<rect x="807" y="2" width="1" height="1" fill="#404040"/>
<rect x="809" y="2" width="1" height="1" fill="#404040"/>
<rect x="811" y="2" width="1" height="1" fill="#404040"/>
<rect x="799" y="5" width="1" height="1" fill="#404040"/>
<rect x="801" y="5" width="1" height="1" fill="#404040"/>
<rect x="803" y="5" width="1" height="1" fill="#404040"/>
<rect x="805" y="5" width="1" height="1" fill="#404040"/>
<rect x="807" y="5" width="1" height="1" fill="#404040"/>
<rect x="809" y="5" width="1" height="1" fill="#404040"/>
<rect x="811" y="5" width="1" height="1" fill="#404040"/>
<rect x="799" y="9" width="1" height="1" fill="#404040"/>
<rect x="801" y="9" width="1" height="1" fill="#404040"/>
<rect x="803" y="9" width="1" height="1" fill="#404040"/>
<rect x="805" y="9" width="1" height="1" fill="#404040"/>
<rect x="807" y="9" width="1" height="1" fill="#404040"/>
<rect x="809" y="9" width="1" height="1" fill="#404040"/>
<rect x="811" y="9" width="1" height="1" fill="#404040"/>
<rect x="799" y="13" width="1" height="1" fill="#404040"/>
<rect x="801" y="13" width="1" height="1" fill="#404040"/>
<rect x="803" y="13" width="1" height="1" fill="#404040"/>
<rect x="805" y="13" width="1" height="1" fill="#404040"/>
<rect x="807" y="13" width="1" height="1" fill="#404040"/>
<text x="808.8" y="18" font-size="6.8" font-weight="bold" fill="#404040" font-family="'Liberation Sans',sans-serif" shape-rendering="geometricPrecision">F</text>
<text x="829.6" y="13.9" font-size="12.4" font-weight="bold" fill="#505050" font-family="'Liberation Sans',sans-serif" textLength="7.8" lengthAdjust="spacingAndGlyphs" shape-rendering="geometricPrecision">A</text>
<rect x="856" y="3" width="1" height="1" fill="#505050"/>
<rect x="856" y="15" width="1" height="1" fill="#505050"/>
<rect x="858" y="3" width="1" height="1" fill="#505050"/>
<rect x="858" y="15" width="1" height="1" fill="#505050"/>
<rect x="860" y="3" width="1" height="1" fill="#505050"/>
<rect x="860" y="15" width="1" height="1" fill="#505050"/>
<rect x="862" y="3" width="1" height="1" fill="#505050"/>
<rect x="862" y="15" width="1" height="1" fill="#505050"/>
<rect x="864" y="3" width="1" height="1" fill="#505050"/>
<rect x="864" y="15" width="1" height="1" fill="#505050"/>
<rect x="866" y="3" width="1" height="1" fill="#505050"/>
<rect x="866" y="15" width="1" height="1" fill="#505050"/>
<rect x="856" y="5" width="1" height="1" fill="#505050"/>
<rect x="867" y="3" width="1" height="1" fill="#505050"/>
<rect x="856" y="7" width="1" height="1" fill="#505050"/>
<rect x="867" y="5" width="1" height="1" fill="#505050"/>
<rect x="856" y="9" width="1" height="1" fill="#505050"/>
<rect x="867" y="7" width="1" height="1" fill="#505050"/>
<rect x="856" y="11" width="1" height="1" fill="#505050"/>
<rect x="867" y="9" width="1" height="1" fill="#505050"/>
<rect x="856" y="13" width="1" height="1" fill="#505050"/>
<rect x="867" y="11" width="1" height="1" fill="#505050"/>
<rect x="856" y="15" width="1" height="1" fill="#505050"/>
<rect x="867" y="13" width="1" height="1" fill="#505050"/>
<rect x="855" y="2" width="2" height="2" fill="#505050"/>
<g fill="#505050"><rect x="858.2" y="6" width="7.8" height="1.4"/><rect x="861.4" y="6" width="1.5" height="8"/></g>
<g fill="#505050" shape-rendering="geometricPrecision"><polygon points="883.2,6.8 886.6,2.9 890,6.8"/><polygon points="890,11.6 897,11.6 893.5,15.8"/></g>
<polyline points="885.2,9.8 887.4,12.2 892,7.2" fill="none" stroke="#505050" stroke-width="1.2" shape-rendering="geometricPrecision"/>
<polygon points="903.9,8 909.4,8 906.65,11" fill="#000" shape-rendering="geometricPrecision"/>
<rect x="915" y="0" width="1" height="20" fill="#a0a0a0"/>
<rect x="916" y="0" width="1" height="20" fill="#ffffff"/>
<rect x="919" y="1" width="3" height="1" fill="#8c8c8c"/>
<rect x="919" y="3" width="3" height="1" fill="#8c8c8c"/>
<rect x="919" y="5" width="3" height="1" fill="#8c8c8c"/>
<rect x="919" y="7" width="3" height="1" fill="#8c8c8c"/>
<rect x="919" y="9" width="3" height="1" fill="#8c8c8c"/>
<rect x="919" y="11" width="3" height="1" fill="#8c8c8c"/>
<rect x="919" y="13" width="3" height="1" fill="#8c8c8c"/>
<rect x="919" y="15" width="3" height="1" fill="#8c8c8c"/>
<rect x="919" y="17" width="3" height="1" fill="#8c8c8c"/>
<rect x="1065" y="0" width="1" height="20" fill="#a0a0a0"/>
<rect x="1066" y="0" width="1" height="20" fill="#ffffff"/>
<rect x="1066" y="0" width="25" height="19" fill="url(#chk)"/>
<rect x="1065" y="0" width="1" height="19" fill="#a0a0a0"/>
<rect x="1065" y="19" width="26" height="1" fill="#ffffff"/>
<text x="930.7" y="12.9" font-size="9.6" fill="#404040" font-family="'Liberation Sans',sans-serif" textLength="12.4" lengthAdjust="spacingAndGlyphs" shape-rendering="geometricPrecision">M1</text>
<text x="958.7" y="12.9" font-size="9.6" fill="#404040" font-family="'Liberation Sans',sans-serif" textLength="12.6" lengthAdjust="spacingAndGlyphs" shape-rendering="geometricPrecision">M5</text>
<text x="984.7" y="12.9" font-size="9.6" fill="#404040" font-family="'Liberation Sans',sans-serif" textLength="17.6" lengthAdjust="spacingAndGlyphs" shape-rendering="geometricPrecision">M15</text>
<text x="1012.7" y="12.9" font-size="9.6" fill="#404040" font-family="'Liberation Sans',sans-serif" textLength="17.5" lengthAdjust="spacingAndGlyphs" shape-rendering="geometricPrecision">M30</text>
<text x="1043.2" y="12.9" font-size="9.6" fill="#404040" font-family="'Liberation Sans',sans-serif" textLength="12" lengthAdjust="spacingAndGlyphs" shape-rendering="geometricPrecision">H1</text>
<text x="1070.5" y="12.9" font-size="9.6" fill="#404040" font-family="'Liberation Sans',sans-serif" textLength="12.4" lengthAdjust="spacingAndGlyphs" shape-rendering="geometricPrecision">H4</text>
<text x="1099.4" y="12.9" font-size="9.6" fill="#404040" font-family="'Liberation Sans',sans-serif" textLength="12.1" lengthAdjust="spacingAndGlyphs" shape-rendering="geometricPrecision">D1</text>
<text x="1127.1" y="12.9" font-size="9.6" fill="#404040" font-family="'Liberation Sans',sans-serif" textLength="14.3" lengthAdjust="spacingAndGlyphs" shape-rendering="geometricPrecision">W1</text>
<text x="1153.8" y="12.9" font-size="9.6" fill="#404040" font-family="'Liberation Sans',sans-serif" textLength="14.9" lengthAdjust="spacingAndGlyphs" shape-rendering="geometricPrecision">MN</text>
<rect x="1176" y="0" width="1" height="20" fill="#a0a0a0"/>
<rect x="1177" y="0" width="1" height="20" fill="#ffffff"/>
<circle cx="1646.5" cy="6.4" r="3.9" fill="none" stroke="#2a5ad0" stroke-width="1.3" shape-rendering="geometricPrecision"/>
<line x1="1643.6" y1="9.4" x2="1639.2" y2="13.8" stroke="#2a5ad0" stroke-width="2"  stroke-linecap="round" shape-rendering="geometricPrecision"/>
<path d="M1664,11 C1664,7 1667,5.8 1670,5.8 C1674,5.8 1676,8 1676,11 C1676,14 1673,15.5 1669.5,15.2 L1667,17.6 L1667.3,14.6 C1665,14 1664,12.8 1664,11 Z" fill="#e8e8ee" stroke="#a0a0a0" stroke-width="0.9" shape-rendering="geometricPrecision"/>
<circle cx="1677.5" cy="6.8" r="8" fill="url(#badge)" shape-rendering="geometricPrecision"/>
<text x="1676.6" y="11.2" font-size="12.5" font-weight="bold" fill="#fff" text-anchor="middle" font-family="'Liberation Serif',serif" shape-rendering="geometricPrecision">1</text>
</svg>
</div></body></html>
